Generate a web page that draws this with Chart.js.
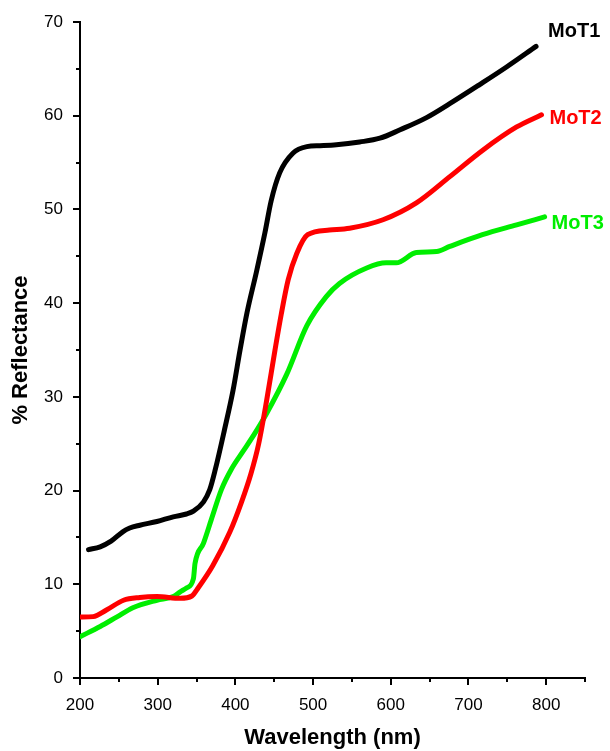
<!DOCTYPE html>
<html>
<head>
<meta charset="utf-8">
<script src="https://cdn.jsdelivr.net/npm/chart.js@4/dist/chart.umd.min.js"></script>
<style>
  html, body { margin: 0; padding: 0; background: #fff; }
  #wrap { width: 610px; height: 751px; position: relative; }
</style>
</head>
<body>
<div id="wrap"><canvas id="reflectanceChart"></canvas></div>
<script>
// Reflectance spectra (wavelength in nm, reflectance in %)
const mot1Wavelength = [211, 226, 240, 255, 264, 277, 299, 320, 337, 346, 359, 367, 374, 386, 397, 406, 415, 427, 438, 446, 457, 474, 492, 509, 530, 560, 586, 612, 646, 680, 714, 749, 787];
const mot1Reflectance = [13.7, 14.0, 14.6, 15.6, 16.0, 16.3, 16.7, 17.2, 17.5, 17.8, 18.8, 20.1, 22.2, 26.5, 30.7, 35.0, 39.0, 43.3, 47.5, 50.9, 53.9, 56.0, 56.7, 56.8, 56.9, 57.2, 57.6, 58.5, 59.8, 61.5, 63.3, 65.2, 67.4];

const mot2Wavelength = [200, 217, 234, 256, 277, 299, 329, 344, 352, 371, 393, 408, 420, 430, 440, 451, 459, 468, 479, 493, 521, 547, 590, 633, 676, 718, 762, 794];
const mot2Reflectance = [6.5, 6.55, 7.25, 8.3, 8.6, 8.7, 8.5, 8.75, 9.6, 12.0, 15.6, 18.8, 21.8, 25.0, 29.5, 35.0, 38.8, 42.5, 45.3, 47.3, 47.8, 48.0, 48.9, 50.7, 53.5, 56.3, 58.8, 60.1];

const mot3Wavelength = [200, 226, 247, 268, 299, 320, 329, 337, 346, 348, 359, 369, 382, 395, 410, 425, 440, 466, 492, 517, 534, 569, 594, 607, 633, 659, 676, 718, 762, 798];
const mot3Reflectance = [4.4, 5.5, 6.5, 7.5, 8.3, 8.7, 9.2, 9.6, 10.6, 12.2, 14.4, 16.9, 20.1, 22.3, 24.2, 26.1, 28.2, 32.4, 37.6, 40.7, 42.1, 43.75, 44.3, 44.3, 45.4, 45.5, 46.05, 47.3, 48.35, 49.2];

const seriesNames = ['MoT1', 'MoT2', 'MoT3'];
const seriesColors = ['#000000', '#ff0000', '#00ee00'];

const xTicks = [200, 300, 400, 500, 600, 700, 800];
const yTicks = [0, 10, 20, 30, 40, 50, 60, 70];

const FONT = 'Arial, "Liberation Sans", sans-serif';

function toPoints(xs, ys) {
    return xs.map((x, i) => ({ x: x, y: ys[i] }));
}

// Outward tick marks: long at labelled values, short halfway between
const tickMarks = {
    id: 'tickMarks',
    afterDraw(chart) {
        const ctx = chart.ctx;
        const xs = chart.scales.x;
        const ys = chart.scales.y;
        ctx.save();
        ctx.strokeStyle = '#000';
        ctx.lineWidth = 2;
        for (let v = xs.min; v <= xs.max; v += 50) {
            const px = Math.round(xs.getPixelForValue(v));
            const len = (v % 100 === 0) ? 7 : 4;
            ctx.beginPath();
            ctx.moveTo(px, ys.bottom);
            ctx.lineTo(px, ys.bottom + len);
            ctx.stroke();
        }
        for (let v = ys.min; v <= ys.max; v += 5) {
            const py = Math.round(ys.getPixelForValue(v));
            const len = (v % 10 === 0) ? 7 : 4;
            ctx.beginPath();
            ctx.moveTo(xs.left, py);
            ctx.lineTo(xs.left - len, py);
            ctx.stroke();
        }
        ctx.restore();
    }
};

// Series names next to the end of each curve
const endLabels = {
    id: 'endLabels',
    afterDatasetsDraw(chart) {
        const ctx = chart.ctx;
        const offsets = [[12, -15], [8, 4], [7, 7]];
        ctx.save();
        ctx.font = 'bold 20px ' + FONT;
        ctx.textBaseline = 'middle';
        chart.data.datasets.forEach((ds, i) => {
            const pts = chart.getDatasetMeta(i).data;
            const last = pts[pts.length - 1];
            ctx.fillStyle = seriesColors[i];
            ctx.fillText(seriesNames[i], last.x + offsets[i][0], last.y + offsets[i][1]);
        });
        ctx.restore();
    }
};

const datasets = [
    toPoints(mot1Wavelength, mot1Reflectance),
    toPoints(mot2Wavelength, mot2Reflectance),
    toPoints(mot3Wavelength, mot3Reflectance)
].map((data, i) => ({
    label: seriesNames[i],
    data: data,
    borderColor: seriesColors[i],
    borderWidth: 5,
    pointRadius: 0,
    cubicInterpolationMode: 'monotone',
    borderCapStyle: 'round',
    borderJoinStyle: 'round'
}));

new Chart(document.getElementById('reflectanceChart'), {
    type: 'line',
    data: { datasets: datasets },
    options: {
        responsive: true,
        maintainAspectRatio: false,
        animation: false,
        layout: { padding: { top: 22, right: 25, left: 0, bottom: 0 } },
        plugins: {
            legend: { display: false },
            tooltip: { enabled: false }
        },
        scales: {
            x: {
                type: 'linear',
                min: 200,
                max: 850,
                afterFit: s => { s.height = 73; },
                afterBuildTicks: s => { s.ticks = xTicks.map(v => ({ value: v })); },
                grid: { drawOnChartArea: false, color: 'rgba(0,0,0,0)', tickLength: 7 },
                border: { display: true, color: '#000', width: 2 },
                ticks: { color: '#000', font: { family: FONT, size: 17 }, padding: 10, maxRotation: 0 },
                title: {
                    display: true,
                    text: 'Wavelength (nm)',
                    color: '#000',
                    font: { family: FONT, size: 22, weight: 'bold' },
                    padding: { top: 0, bottom: 0 }
                }
            },
            y: {
                type: 'linear',
                min: 0,
                max: 70,
                afterFit: s => { s.width = 80; },
                afterBuildTicks: s => { s.ticks = yTicks.map(v => ({ value: v })); },
                grid: { drawOnChartArea: false, color: 'rgba(0,0,0,0)', tickLength: 7 },
                border: { display: true, color: '#000', width: 2 },
                ticks: { color: '#000', font: { family: FONT, size: 17 }, padding: 10 },
                title: {
                    display: true,
                    text: '% Reflectance',
                    color: '#000',
                    font: { family: FONT, size: 22, weight: 'bold' },
                    padding: { top: 8, bottom: 0 }
                }
            }
        }
    },
    plugins: [tickMarks, endLabels]
});
</script>
</body>
</html>
